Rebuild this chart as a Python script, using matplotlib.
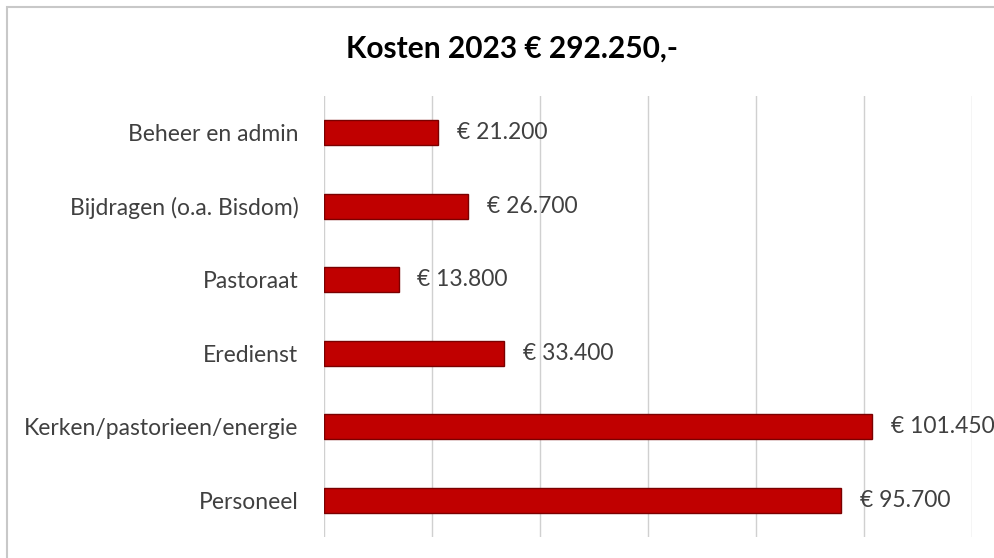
import matplotlib.pyplot as plt
from matplotlib.patches import Rectangle

# Data (top to bottom as shown)
categories = ['Beheer en admin', 'Bijdragen (o.a. Bisdom)', 'Pastoraat',
              'Eredienst', 'Kerken/pastorieen/energie', 'Personeel']
values = [21200, 26700, 13800, 33400, 101450, 95700]
value_labels = ['€ 21.200', '€ 26.700', '€ 13.800', '€ 33.400', '€ 101.450', '€ 95.700']
title = 'Kosten 2023 € 292.250,-'

plt.rcParams['font.family'] = ['Lato', 'DejaVu Sans']

fig = plt.figure(figsize=(9.94, 5.58), dpi=100)
W, H = 994, 558
ax = fig.add_axes([324 / W, 1 - 537 / H, (972 - 324) / W, (537 - 96) / H])

ypos = list(range(len(categories)))[::-1]
ax.barh(ypos, values, height=0.34, color='#C00000', edgecolor='#7A0000',
        linewidth=1.0, zorder=3)

for y, v, lab in zip(ypos, values, value_labels):
    ax.text(v + 3500, y, lab, va='center', ha='left', fontsize=16.5,
            color='#404040', zorder=4, clip_on=False)

ax.set_xlim(0, 120000)
ax.set_ylim(-0.5, len(categories) - 0.5)
ax.set_xticks(range(0, 120001, 20000))
ax.set_xticklabels([])
ax.tick_params(axis='x', length=0)
ax.grid(axis='x', color='#D0D0D0', linewidth=1, zorder=0)
ax.set_yticks(ypos)
ax.set_yticklabels(categories, fontsize=16.5, color='#404040')
ax.tick_params(axis='y', length=0, pad=18.5)
for s in ax.spines.values():
    s.set_visible(False)

fig.text(512 / W, 1 - 58 / H, title, ha='center', va='baseline', fontsize=21.5,
         fontweight='bold', color='black')

# chart border
fig.patches.append(Rectangle((7 / W, -0.1), 1.1, 1 - 7 / H + 0.1,
                             transform=fig.transFigure, fill=False,
                             edgecolor='#C8C8C8', linewidth=1.5))

fig.savefig('out.png', dpi=100)
